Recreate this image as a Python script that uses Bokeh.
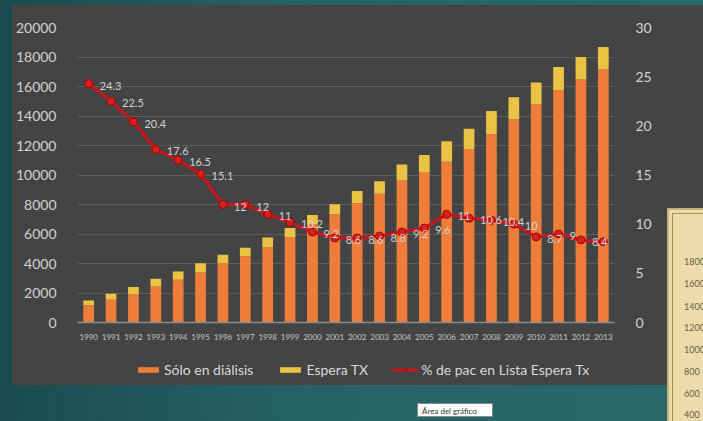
from bokeh.plotting import figure
from bokeh.models import (Range1d, LinearAxis, FixedTicker, Legend, LegendItem,
                          ColumnDataSource, FactorRange, Div)
from bokeh.layouts import row, column
from bokeh.core.properties import value
from bokeh.embed import file_html
from bokeh.resources import INLINE

# ---------------- data ----------------
years = [str(y) for y in range(1990, 2014)]
solo_dialisis = [1170, 1550, 1890, 2440, 2900, 3410, 4040, 4490, 5100, 5770, 6670, 7340,
                 8080, 8730, 9630, 10210, 10890, 11760, 12770, 13780, 14810, 15760, 16480, 17150]
espera_tx = [330, 400, 510, 520, 560, 610, 560, 580, 670, 630, 620, 670,
             830, 850, 1080, 1150, 1390, 1370, 1570, 1490, 1460, 1570, 1520, 1520]
pct_lista = [24.3, 22.5, 20.4, 17.6, 16.5, 15.1, 12, 12, 11, 10.2, 9.2, 8.6,
             8.6, 8.8, 9.2, 9.6, 11.0, 10.6, 10.4, 10.0, 8.7, 9.0, 8.4, 8.2]
pct_labels = ["24.3", "22.5", "20.4", "17.6", "16.5", "15.1", "12", "12", "11", "10.2", "9.2", "8.6",
              "8.6", "8.8", "9.2", "9.6", "11", "10.6", "10.4", "10", "8.7", "9", "8.4", "8.2"]
left_ticks = [0, 2000, 4000, 6000, 8000, 10000, 12000, 14000, 16000, 18000, 20000]
right_ticks = [0, 5, 10, 15, 20, 25, 30]
series_names = ["Sólo en diálisis", "Espera TX", "% de pac en Lista Espera Tx"]
parchment_ticks = ["1800", "1600", "1400", "1200", "1000", "800", "600", "400"]
tooltip_text = "Área del gráfico"

FONT = "Lato"
DARK = "#444444"
TEAL_BG = "linear-gradient(to right, #1a4a4e, #256264 40%, #2a6a6a)"
ORANGE = "#EE7D3A"
YELLOW = "#EBC344"
RED = "#C8161D"
TXT = "#d2d2d2"

src = ColumnDataSource(dict(x=years, solo=solo_dialisis, espera=espera_tx,
                            pct=pct_lista, lbl=pct_labels))

# ---------------- main chart ----------------
p = figure(width=655, height=337,
           x_range=FactorRange(factors=years, range_padding=0),
           y_range=Range1d(0, 20000),
           output_backend="svg", toolbar_location=None,
           min_border_left=58, min_border_right=53, min_border_top=22, min_border_bottom=18,
           background_fill_color=DARK, border_fill_color=DARK, outline_line_color=None,
           margin=0)
p.extra_y_ranges = {"pct": Range1d(0, 30)}

bars = p.vbar_stack(["solo", "espera"], x="x", width=0.48, color=[ORANGE, YELLOW],
                    line_color=None, source=src)
ln = p.line(x="x", y="pct", y_range_name="pct", line_color=RED, line_width=3, source=src)
sc = p.scatter(x="x", y="pct", y_range_name="pct", size=8, fill_color="#D42222",
               line_color="#A80000", source=src)
p.text(x="x", y="pct", text="lbl", y_range_name="pct", x_offset=11, y_offset=2,
       text_font=value(FONT), text_font_size="11px", text_color=TXT,
       text_baseline="middle", text_align="left", source=src)

p.yaxis.ticker = FixedTicker(ticks=left_ticks)
ra = LinearAxis(y_range_name="pct", ticker=FixedTicker(ticks=right_ticks))
p.add_layout(ra, "right")
for ax in (p.yaxis[0], ra):
    ax.axis_line_color = None
    ax.major_tick_line_color = None
    ax.minor_tick_line_color = None
    ax.major_label_text_color = TXT
    ax.major_label_text_font = FONT
    ax.major_label_text_font_size = "14px"
    ax.major_label_standoff = 15

p.xaxis.axis_line_color = "#8c8c8c"
p.xaxis.axis_line_width = 1.5
p.xaxis.major_tick_line_color = None
p.xaxis.minor_tick_line_color = None
p.xaxis.major_label_text_color = "#c4c4c4"
p.xaxis.major_label_text_font = FONT
p.xaxis.major_label_text_font_size = "8px"
p.xaxis.major_label_standoff = 5

p.xgrid.grid_line_color = None
p.ygrid.ticker = FixedTicker(ticks=left_ticks)
p.ygrid.grid_line_color = "#5c5c5c"
p.ygrid.grid_line_width = 1

# ---------------- legend strip (hidden copies of the series, legend only) ----------------
lf = figure(width=655, height=43, x_range=FactorRange(factors=years, range_padding=0),
            y_range=Range1d(0, 20000),
            output_backend="svg", toolbar_location=None, x_axis_type=None, y_axis_type=None,
            min_border=0, background_fill_color=DARK, border_fill_color=DARK,
            outline_line_color=None, margin=0)
lf.xgrid.visible = False
lf.ygrid.visible = False
g1 = lf.vbar(x="x", top="solo", width=0.48, color=ORANGE, line_color=None, source=src)
g2 = lf.vbar(x="x", top="espera", width=0.48, color=YELLOW, line_color=None, source=src)
g3 = lf.line(x="x", y="pct", line_color=RED, line_width=3, source=src)
g4 = lf.scatter(x="x", y="pct", size=8, fill_color="#D42222", line_color="#A80000", source=src)
for g in (g1, g2, g3, g4):
    g.visible = False
legend = Legend(items=[LegendItem(label=series_names[0], renderers=[g1]),
                       LegendItem(label=series_names[1], renderers=[g2]),
                       LegendItem(label=series_names[2], renderers=[g3, g4])],
                orientation="horizontal", location=(58, 7),
                glyph_width=26, glyph_height=7, label_standoff=3, spacing=24,
                padding=0, margin=0, background_fill_alpha=0, border_line_color=None,
                inactive_fill_alpha=0,
                label_text_color="#d9d9d9", label_text_font=FONT, label_text_font_size="14px")
lf.add_layout(legend)

chart_block = column(p, lf, spacing=0, margin=(5, 0, 0, 12),
                     styles={"background-color": DARK})

# ---------------- surrounding slide pieces ----------------
tooltip_html = (
    '<div style="position:relative;width:667px;height:36px;overflow:hidden;">'
    '<div style="position:absolute;left:417px;top:18px;width:76px;height:14px;'
    'background:#ffffff;border:1px solid #8a8a8a;font-family:Lato;font-size:8px;'
    'color:#333;line-height:14px;padding-left:4px;">%s</div></div>'
) % tooltip_text
bottom_div = Div(text=tooltip_html, width=667, height=36, margin=0)

spans = "".join(
    '<div style="position:absolute;left:15px;top:%dpx;font-family:Lato;font-size:9px;'
    'color:#6b604a;line-height:10px;white-space:nowrap;">%s</div>' % (yy - 5, t)
    for t, yy in zip(parchment_ticks, [52, 74, 97, 118, 140, 162, 184, 205]))
parch_html = ('<div style="position:relative;width:36px;height:213px;overflow:hidden;'
              'background:#ecdcab;box-sizing:border-box;border-left:2px solid #c9b07a;'
              'border-top:2px solid #c9b07a;">'
              '<div style="position:absolute;left:3px;top:3px;width:60px;height:230px;'
              'border-left:1px solid #a98e52;border-top:1px solid #a98e52;"></div>%s</div>') % spans
dark_div = Div(text="", width=36, height=203, margin=(5, 0, 0, 0),
               styles={"background-color": DARK})
parch_div = Div(text=parch_html, width=36, height=213, margin=0)

layout = row(column(chart_block, bottom_div, spacing=0),
             column(dark_div, parch_div, spacing=0),
             spacing=0, styles={"background": TEAL_BG})

open("out.html", "w").write(file_html(layout, INLINE))
